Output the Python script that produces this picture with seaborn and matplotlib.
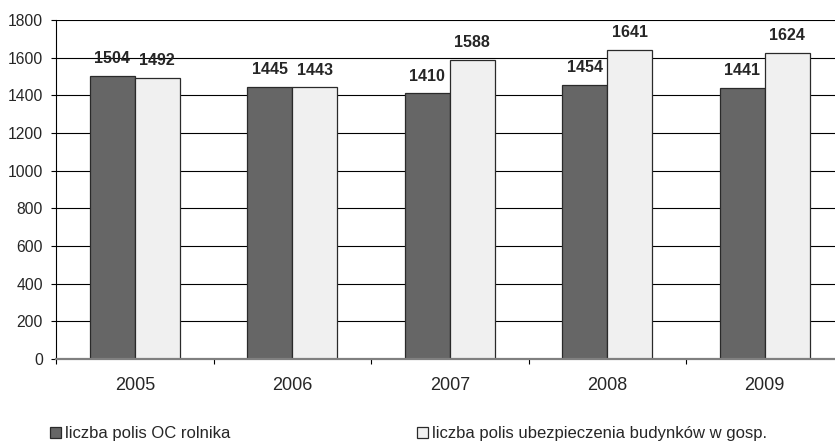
import pandas as pd
import numpy as np
import matplotlib
matplotlib.use("Agg")
import matplotlib.pyplot as plt
import seaborn as sns

# data
years = ["2005", "2006", "2007", "2008", "2009"]
oc_rolnika = [1504, 1445, 1410, 1454, 1441]
budynki = [1492, 1443, 1588, 1641, 1624]
series_names = ["liczba polis OC rolnika", "liczba polis ubezpieczenia budynków w gosp."]

df = pd.DataFrame({
    "rok": years * 2,
    "wartosc": oc_rolnika + budynki,
    "seria": [series_names[0]] * len(years) + [series_names[1]] * len(years),
})

sns.set_style("white")
plt.rcParams["font.family"] = ["Liberation Sans", "DejaVu Sans"]

fig = plt.figure(figsize=(8.35, 4.41), dpi=100)
# plot area: 1800 at y=20px, 0 at y=359px, runs a bit past the right edge
ax = fig.add_axes([56 / 835, 82 / 441, 787.5 / 835, 339 / 441])

sns.barplot(data=df, x="rok", y="wartosc", hue="seria", ax=ax,
            palette=["#666666", "#f0f0f0"], width=0.572,
            edgecolor="#2a2a2a", linewidth=0.9, saturation=1, legend=True)

for cont in ax.containers:
    ax.bar_label(cont, fmt="%d", padding=7, fontsize=11.5, fontweight="bold")

ax.set_ylim(0, 1800)
ax.set_yticks(np.arange(0, 1801, 200))
ax.set_xlim(-0.5, len(years) - 0.5)
ax.set_xlabel("")
ax.set_ylabel("")
ax.yaxis.grid(True, color="black", linewidth=0.8)
ax.set_axisbelow(True)

ax.tick_params(axis="y", length=3.6, width=0.8, color="black", labelsize=11.3, pad=5.8, left=True)
ax.tick_params(axis="x", which="major", length=0, labelsize=13, pad=12.7)
ax.set_xticks(np.arange(-0.5, len(years)), minor=True)
ax.tick_params(axis="x", which="minor", length=3.6, width=0.8, color="black", bottom=True)

for side in ["top", "right"]:
    ax.spines[side].set_visible(False)
ax.spines["left"].set_color("black")
ax.spines["left"].set_linewidth(0.8)
ax.spines["bottom"].set_color("#808080")
ax.spines["bottom"].set_linewidth(1.6)

handles, labels = ax.get_legend_handles_labels()
ax.get_legend().remove()
fig.legend(handles, labels, loc="lower left", bbox_to_anchor=(50 / 835, 0.0),
           ncol=2, frameon=False, fontsize=12, handlelength=0.66,
           handleheight=0.66, handletextpad=0.24, columnspacing=11.2,
           borderpad=0, borderaxespad=0)

fig.savefig("out.png", dpi=100)
